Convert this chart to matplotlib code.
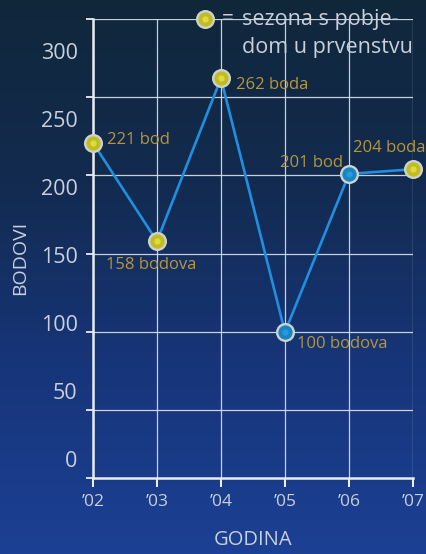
import matplotlib.pyplot as plt
import matplotlib.colors as mcolors
import numpy as np

plt.rcParams['font.family'] = ['Open Sans', 'DejaVu Sans']

# data
godine = ['\u201902', '\u201903', '\u201904', '\u201905', '\u201906', '\u201907']
bodovi = [221, 158, 262, 100, 201, 204]
prvak = [True, True, True, False, False, True]
oznake = ['221 bod', '158 bodova', '262 boda', '100 bodova', '201 bod', '204 boda']
# label offsets in points (layout only)
pomaci = [(10, 2), (-37, -17), (11, -5), (9, -9), (-4, 8), (-43, 15)]
poravnanje = ['left', 'left', 'left', 'left', 'right', 'left']
y_oznake = [0, 50, 100, 150, 200, 250, 300]
legenda = ['sezona s pobje-', 'dom u prvenstvu']

SIVA = '#c9d0dc'
ZLATNA = '#b8963a'
PLAVA = '#1f8fe0'
ZUTA = '#c2bb22'
PRSTEN = '#cdd2cc'

fig = plt.figure(figsize=(4.26, 5.54), dpi=100)

# background gradient
bg = fig.add_axes([0, 0, 1, 1], zorder=-10)
cmap = mcolors.LinearSegmentedColormap.from_list(
    'poz', ['#10273a', '#132b50', '#17357a', '#1c4094'])
grad = np.linspace(0, 1, 256).reshape(-1, 1)
bg.imshow(grad, aspect='auto', cmap=cmap, extent=[0, 1, 0, 1], origin='upper')
bg.set_axis_off()

ax = fig.add_axes([0.218, 0.1372, 0.7515, 0.8285])
ax.set_facecolor('none')
x = np.arange(len(bodovi))
ax.set_xlim(0, len(bodovi) - 1)
ax.set_ylim(6.7, 300)

ax.set_xticks(x)
ax.set_xticklabels(godine)
ax.set_yticks(y_oznake[1:])
ax.set_yticklabels([])
ax.set_yticks([6.7], minor=True)
ax.grid(True, color='#dde3ec', lw=0.9, alpha=0.9)
ax.set_axisbelow(True)
for s in ['top', 'right']:
    ax.spines[s].set_visible(False)
for s in ['left', 'bottom']:
    ax.spines[s].set_color('#e8ecf2')
    ax.spines[s].set_linewidth(1.8)
ax.tick_params(axis='x', direction='out', length=6.5, width=1.5, color='#e8ecf2',
               labelcolor=SIVA, labelsize=12.5, pad=5)
ax.tick_params(axis='y', which='both', direction='out', length=5, width=1.3,
               color='#e8ecf2')

# y labels sit on their own scale
ax2 = ax.twinx()
ax2.set_ylim(-13.6, 323.7)
ax2.yaxis.tick_left()
ax2.set_yticks(y_oznake)
ax2.tick_params(axis='y', length=0, pad=11, labelsize=15.5, labelcolor=SIVA)
for s in ax2.spines.values():
    s.set_visible(False)

ax.plot(x, bodovi, color=PLAVA, lw=1.9, zorder=3)
for xi, yi, p in zip(x, bodovi, prvak):
    ax.plot(xi, yi, 'o', ms=12, mfc=ZUTA if p else '#1784c4', mec=PRSTEN,
            mew=1.7, zorder=4, clip_on=False)
    ax.plot(xi, yi, 'o', ms=4.5, mfc='#e6e24a' if p else '#2ba0e0', mec='none',
            alpha=0.8, zorder=5, clip_on=False)

for xi, yi, t, off, ha in zip(x, bodovi, oznake, pomaci, poravnanje):
    ax.annotate(t, (xi, yi), xytext=off, textcoords='offset points', ha=ha,
                va='center', color=ZLATNA, fontsize=12, zorder=6,
                annotation_clip=False)

# legend
ax.plot(0.35, 1.0, 'o', ms=12, mfc=ZUTA, mec=PRSTEN, mew=1.7,
        transform=ax.transAxes, clip_on=False, zorder=5)
ax.plot(0.35, 1.0, 'o', ms=4.5, mfc='#e6e24a', mec='none', alpha=0.8,
        transform=ax.transAxes, clip_on=False, zorder=6)
ax.text(0.403, 1.0, '=', transform=ax.transAxes, ha='left', va='center',
        color=SIVA, fontsize=15)
for red, yy in zip(legenda, [1.0, 0.937]):
    ax.text(0.466, yy, red, transform=ax.transAxes, ha='left', va='center',
            color=SIVA, fontsize=15.5)

ax.set_ylabel('BODOVI', color=SIVA, fontsize=14)
ax.yaxis.set_label_coords(-0.228, 0.48)
ax.set_xlabel('GODINA', color=SIVA, fontsize=14.5)
ax.xaxis.set_label_coords(0.5, -0.135)
ax.xaxis.label.set_verticalalignment('center')
ax.yaxis.label.set_verticalalignment('center')

fig.savefig('out.png', dpi=100)
